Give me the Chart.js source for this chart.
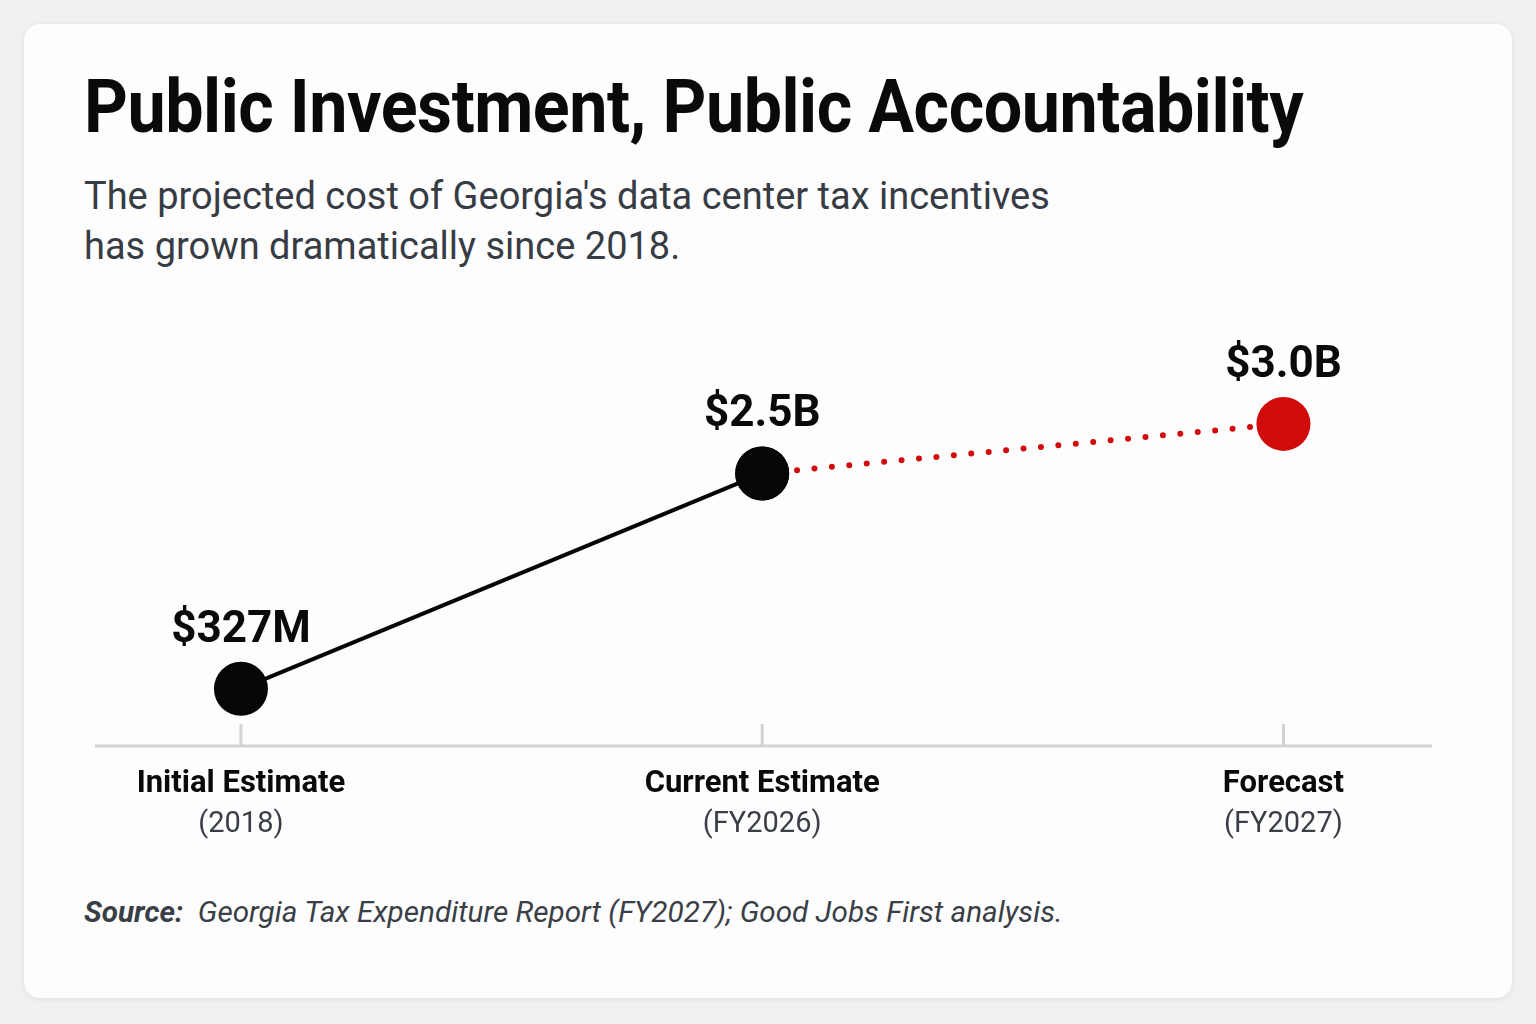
<!DOCTYPE html>
<html>
<head>
<meta charset="utf-8">
<script src="https://cdn.jsdelivr.net/npm/chart.js@4/dist/chart.umd.min.js"></script>
<style>
  html, body { margin: 0; padding: 0; }
  body { width: 1536px; height: 1024px; background: #f1f1f1; position: relative; overflow: hidden; font-family: Roboto, sans-serif; }
  .card { position: absolute; left: 24px; top: 24px; width: 1488px; height: 974px; background: #fdfdfd; border-radius: 16px; box-shadow: 0 1px 6px rgba(0,0,0,0.08); }
  h1 { position: absolute; left: 60px; top: 45px; margin: 0; font-family: Roboto, sans-serif; font-weight: 700; font-size: 75px; line-height: 1; color: #0a0a0a; white-space: nowrap; transform-origin: 0 0; letter-spacing: -0.5px; }
  .sub { position: absolute; left: 60px; top: 147px; margin: 0; font-size: 38px; line-height: 50px; color: #373c44; }
  .src { position: absolute; left: 60px; top: 870px; margin: 0; font-size: 29.7px; font-style: italic; color: #3a3f47; white-space: nowrap; }
  .src b { font-weight: 700; }
  .wrap { position: absolute; left: 0; top: 232px; width: 1488px; height: 600px; }
</style>
</head>
<body>
<div class="card">
  <h1 id="title">Public Investment, Public Accountability</h1>
  <p class="sub" id="sub">The projected cost of Georgia's data center tax incentives<br>has grown dramatically since 2018.</p>
  <div class="wrap"><canvas id="chart-cost" width="1488" height="600"></canvas></div>
  <p class="src" id="src"><b>Source:</b>&nbsp; Georgia Tax Expenditure Report (FY2027); Good Jobs First analysis.</p>
</div>
<script>
const STAGES      = ['Initial Estimate', 'Current Estimate', 'Forecast'];
const STAGE_YEARS = ['(2018)', '(FY2026)', '(FY2027)'];
const COST_M      = [327, 2500, 3000];           // millions of dollars
const COST_LABELS = ['$327M', '$2.5B', '$3.0B'];

const INK = '#060606';
const RED = '#d10a0a';

// the title in the reference is a condensed face, squeeze Roboto to the same width
const title = document.getElementById('title');
title.style.transform = `scaleX(${1219 / title.offsetWidth})`;

const actual   = COST_M.map((v, i) => ({ x: i, y: i < 2 ? v : null }));
const forecast = COST_M.map((v, i) => ({ x: i, y: i >= 1 ? v : null }));

// axis line, tick marks, two-line category labels and value labels
const decorPlugin = {
  id: 'decor',
  afterDatasetsDraw(chart) {
    const { ctx, chartArea, scales: { x, y } } = chart;
    ctx.save();
    ctx.strokeStyle = '#d3d3d3';
    ctx.lineWidth = 3;
    ctx.beginPath();
    ctx.moveTo(chartArea.left, chartArea.bottom);
    ctx.lineTo(chartArea.right, chartArea.bottom);
    ctx.stroke();

    ctx.textAlign = 'center';
    STAGES.forEach((name, i) => {
      const px = x.getPixelForValue(i);
      ctx.lineWidth = 3;
      ctx.beginPath();
      ctx.moveTo(px, chartArea.bottom - 22);
      ctx.lineTo(px, chartArea.bottom);
      ctx.stroke();

      ctx.fillStyle = '#0a0a0a';
      ctx.font = '700 31px Roboto, sans-serif';
      ctx.fillText(name, px, chartArea.bottom + 46);
      ctx.fillStyle = '#3a3f47';
      ctx.font = '400 29px Roboto, sans-serif';
      ctx.fillText(STAGE_YEARS[i], px, chartArea.bottom + 86);

      ctx.fillStyle = '#0a0a0a';
      ctx.font = '700 44px Roboto, sans-serif';
      ctx.fillText(COST_LABELS[i], px, y.getPixelForValue(COST_M[i]) - 47);
    });
    ctx.restore();
  },
};

new Chart(document.getElementById('chart-cost').getContext('2d'), {
  type: 'line',
  data: {
    datasets: [
      {
        data: actual,
        borderColor: INK,
        borderWidth: 4,
        pointRadius: [27, 27, 0],
        pointBackgroundColor: INK,
        pointBorderWidth: 0,
        pointHoverRadius: [27, 27, 0],
        order: 2,
      },
      {
        data: forecast,
        borderColor: RED,
        borderWidth: 6,
        borderDash: [0, 17.5],
        borderCapStyle: 'round',
        pointRadius: [0, 27, 27],
        pointBackgroundColor: [INK, INK, RED],
        pointBorderWidth: 0,
        pointHoverRadius: [0, 27, 27],
        order: 1,
      },
    ],
  },
  options: {
    responsive: false,
    animation: false,
    events: [],
    clip: false,
    layout: { padding: { left: 71, right: 80, top: 44, bottom: 110 } },
    plugins: { legend: { display: false }, tooltip: { enabled: false } },
    scales: {
      x: { type: 'linear', display: false, min: -0.28, max: 2.285 },
      y: { display: false, min: -250, max: 4250 },
    },
  },
  plugins: [decorPlugin],
});
</script>
</body>
</html>
